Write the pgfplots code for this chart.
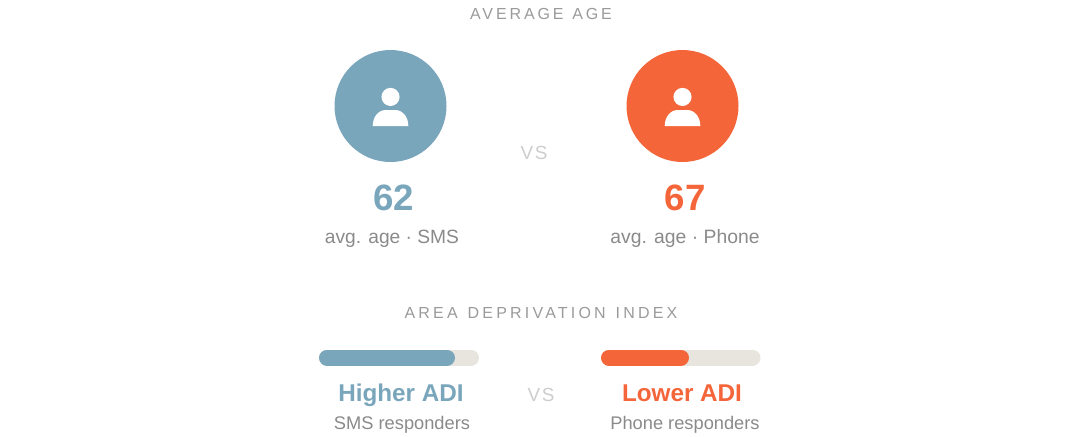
\documentclass[border=0pt]{standalone}
\usepackage{fontspec}
\usepackage{pgfplots}
\pgfplotsset{compat=1.18}
\setmainfont{Liberation Sans}
\newfontfamily\spaced[LetterSpace=20,WordSpace=1.3]{Liberation Sans}
\newfontfamily\spacedtop[LetterSpace=18,WordSpace=1.2]{Liberation Sans}
\newfontfamily\vsfont[LetterSpace=8]{Liberation Sans}

\definecolor{smsblue}{HTML}{7AA6BC}
\definecolor{phoneorange}{HTML}{F4653A}
\definecolor{track}{HTML}{E8E4DE}
\definecolor{txtgray}{HTML}{8A8A8A}
\definecolor{headgray}{HTML}{9A9A9A}
\definecolor{vsgray}{HTML}{CDCDCD}

% 1 axis unit = 1 reference pixel = 0.75pt
\pgfdeclareplotmark{disc}{%
  \pgfpathcircle{\pgfpointorigin}{\pgfplotmarksize}%
  \pgfusepathqfill
}
\pgfdeclareplotmark{person}{%
  \pgfpathcircle{\pgfpoint{0pt}{6.8pt}}{6.8pt}%
  \pgfpathmoveto{\pgfpoint{-13.35pt}{-15pt}}%
  \pgfpathcurveto{\pgfpoint{-13.35pt}{-8pt}}{\pgfpoint{-9pt}{-3pt}}{\pgfpoint{-3.5pt}{-3pt}}%
  \pgfpathlineto{\pgfpoint{3.5pt}{-3pt}}%
  \pgfpathcurveto{\pgfpoint{9pt}{-3pt}}{\pgfpoint{13.35pt}{-8pt}}{\pgfpoint{13.35pt}{-15pt}}%
  \pgfpathclose
  \pgfusepathqfill
}

\tikzset{lbl/.style={anchor=base, inner sep=0pt}}

\begin{document}
\begin{tikzpicture}
  \begin{axis}[
      scale only axis,
      width=810pt,
      height=327pt,
      xmin=0, xmax=1080,
      ymin=0, ymax=436,
      y dir=reverse,
      hide axis,
      clip=false,
    ]
    % avatars
    \addplot[only marks, mark=disc, mark size=42pt, color=smsblue, mark options={fill=smsblue}] coordinates {(390.5,106)};
    \addplot[only marks, mark=disc, mark size=42pt, color=phoneorange, mark options={fill=phoneorange}] coordinates {(682.5,106)};
    \addplot[only marks, mark=person, color=white, mark options={fill=white}] coordinates {(390.5,106) (682.5,106)};

    % ADI bars: track 160 px wide, fill 85 and 55 percent
    \addplot[track, line width=12pt, line cap=round] coordinates {(327,357.5) (471,357.5)};
    \addplot[smsblue, line width=12pt, line cap=round] coordinates {(327,357.5) (447,357.5)};
    \addplot[track, line width=12pt, line cap=round] coordinates {(609,357.5) (752.5,357.5)};
    \addplot[phoneorange, line width=12pt, line cap=round] coordinates {(609,357.5) (681,357.5)};

    % text
    \node[lbl, text=headgray, font=\spacedtop\fontsize{12}{14}\selectfont] at (axis cs:541,19.5) {AVERAGE AGE};
    \node[lbl, text=vsgray, font=\vsfont\fontsize{14.2}{16}\selectfont] at (axis cs:534,159) {VS};
    \node[lbl, text=smsblue, font=\bfseries\fontsize{27.5}{30}\selectfont] at (axis cs:393.5,210) {62};
    \node[lbl, text=phoneorange, font=\bfseries\fontsize{27.5}{30}\selectfont] at (axis cs:685,210) {67};
    \node[lbl, text=txtgray, font=\fontsize{14.4}{16}\selectfont] at (axis cs:392,243) {avg. age · SMS};
    \node[lbl, text=txtgray, font=\fontsize{14.5}{16}\selectfont] at (axis cs:685,243) {avg. age · Phone};
    \node[lbl, text=headgray, font=\spaced\fontsize{12}{14}\selectfont] at (axis cs:541,318.5) {AREA DEPRIVATION INDEX};
    \node[lbl, text=smsblue, font=\bfseries\fontsize{18.2}{20}\selectfont] at (axis cs:401,401) {Higher ADI};
    \node[lbl, text=phoneorange, font=\bfseries\fontsize{18.2}{20}\selectfont] at (axis cs:682,401) {Lower ADI};
    \node[lbl, text=vsgray, font=\vsfont\fontsize{14.2}{16}\selectfont] at (axis cs:541,401) {VS};
    \node[lbl, text=txtgray, font=\fontsize{13.7}{15}\selectfont] at (axis cs:402,429.5) {SMS responders};
    \node[lbl, text=txtgray, font=\fontsize{13.7}{15}\selectfont] at (axis cs:685,429.5) {Phone responders};
  \end{axis}
  \useasboundingbox (0,0) rectangle (810pt,327pt);
\end{tikzpicture}
\end{document}
